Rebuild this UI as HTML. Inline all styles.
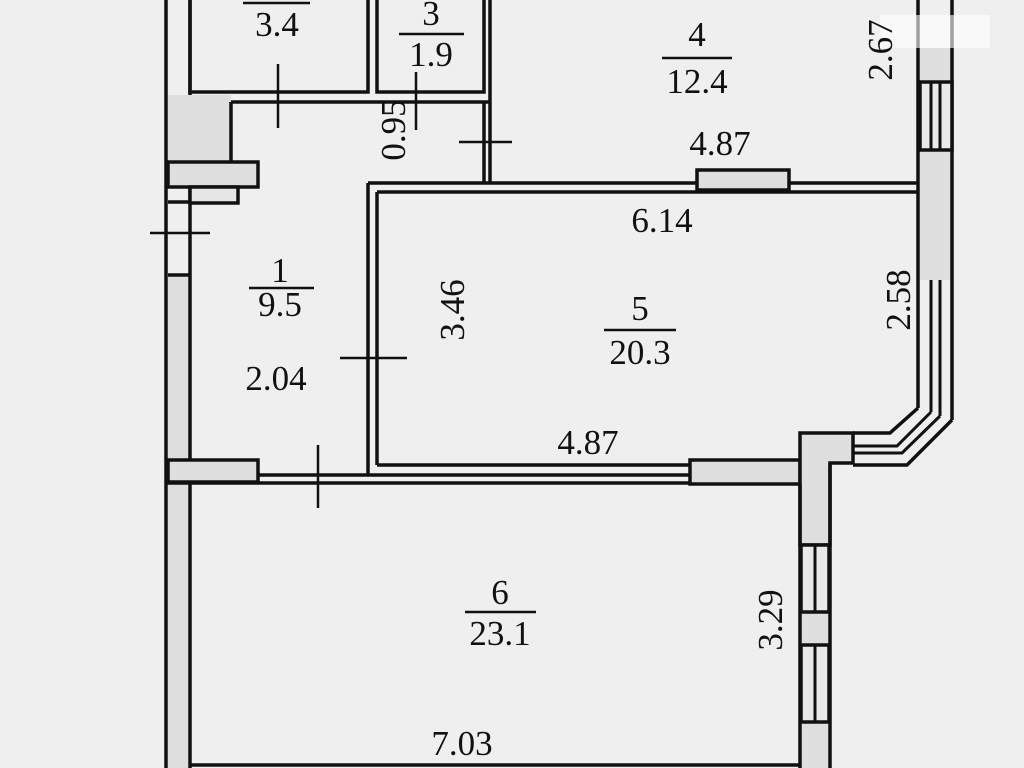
<!DOCTYPE html>
<html><head><style>
html,body{margin:0;padding:0;background:#efefef;}
svg{display:block;}
text{font-family:"Liberation Serif",serif;font-size:35px;fill:#111;}
</style></head><body>
<svg width="1024" height="768" viewBox="0 0 1024 768" xmlns="http://www.w3.org/2000/svg">
<rect width="1024" height="768" fill="#efefef"/>
<g fill="#dedede" stroke="none">
<rect x="168" y="95" width="63" height="67"/>
<rect x="168" y="275" width="22" height="185"/>
<rect x="168" y="483" width="22" height="285"/>
<rect x="920" y="48" width="32" height="34"/>
<rect x="920" y="150" width="32" height="130"/>
<rect x="801" y="612" width="28" height="33"/>
<rect x="801" y="722" width="28" height="46"/>
</g>
<g fill="none" stroke="#111" stroke-width="3.5">
<line x1="166" y1="0" x2="166" y2="768"/>
<line x1="190" y1="0" x2="190" y2="95"/>
<line x1="190" y1="188" x2="190" y2="460"/>
<line x1="190" y1="483" x2="190" y2="768"/>
<line x1="168" y1="275" x2="190" y2="275"/>
<line x1="168" y1="202" x2="190" y2="202"/>
<polyline points="190,0 190,92 368,92 368,0"/>
<polyline points="377,0 377,92 484,92 484,0"/>
<line x1="490" y1="0" x2="490" y2="183"/>
<line x1="484" y1="102" x2="484" y2="183"/>
<line x1="231" y1="102" x2="490" y2="102"/>
<line x1="231" y1="102" x2="231" y2="162"/>
<rect x="168" y="162" width="90" height="25" fill="#dedede"/>
<rect x="190" y="187" width="48" height="16" fill="#e6e6e6"/>
<line x1="368" y1="183" x2="918" y2="183"/>
<line x1="377" y1="192" x2="918" y2="192"/>
<line x1="368" y1="183" x2="368" y2="475"/>
<line x1="377" y1="192" x2="377" y2="465"/>
<rect x="697" y="170" width="92" height="20" fill="#dedede"/>
<line x1="377" y1="465" x2="690" y2="465"/>
<line x1="258" y1="475" x2="690" y2="475"/>
<line x1="166" y1="483" x2="690" y2="483"/>
<rect x="168" y="460" width="90" height="22" fill="#dedede"/>
<rect x="690" y="460" width="110" height="24" fill="#dedede"/>
<path d="M800 433 L853 433 L853 463 L830 463 L830 545 L800 545 Z" fill="#dedede"/>
<line x1="800" y1="484" x2="800" y2="768"/>
<line x1="830" y1="463" x2="830" y2="768"/>
<rect x="801" y="545" width="28" height="67" fill="#e9e9e9"/>
<rect x="801" y="645" width="28" height="77" fill="#e9e9e9"/>
<line x1="815" y1="545" x2="815" y2="612" stroke-width="3"/>
<line x1="815" y1="645" x2="815" y2="722" stroke-width="3"/>
<line x1="190" y1="765" x2="800" y2="765"/>
<line x1="918" y1="0" x2="918" y2="408"/>
<line x1="952" y1="0" x2="952" y2="420"/>
<rect x="920" y="82" width="32" height="68" fill="#e9e9e9"/>
<line x1="931" y1="82" x2="931" y2="150" stroke-width="3"/>
<line x1="940" y1="82" x2="940" y2="150" stroke-width="3"/>
<line x1="931" y1="280" x2="931" y2="412" stroke-width="3"/>
<line x1="940" y1="280" x2="940" y2="416" stroke-width="3"/>
<polyline points="918,408 890,433 853,433"/>
<polyline points="931,412 897,446 853,446" stroke-width="3"/>
<polyline points="940,416 902,453 853,453" stroke-width="3"/>
<polyline points="952,420 907,465 853,465"/>
<g stroke-width="2.5">
<line x1="278" y1="64" x2="278" y2="128"/>
<line x1="416" y1="72" x2="416" y2="130"/>
<line x1="459" y1="142" x2="512" y2="142"/>
<line x1="150" y1="233" x2="210" y2="233"/>
<line x1="340" y1="358" x2="407" y2="358"/>
<line x1="318" y1="445" x2="318" y2="508"/>
<line x1="243" y1="3" x2="310" y2="3"/>
<line x1="399" y1="34" x2="464" y2="34"/>
<line x1="662" y1="58" x2="732" y2="58"/>
<line x1="249" y1="288" x2="314" y2="288"/>
<line x1="604" y1="330" x2="676" y2="330"/>
<line x1="465" y1="612" x2="536" y2="612"/>
</g>
</g>
<rect x="880" y="15" width="110" height="33" fill="#fff" opacity="0.6"/>
<g text-anchor="middle">
<text x="277" y="36">3.4</text>
<text x="431" y="25">3</text>
<text x="431" y="66">1.9</text>
<text x="697" y="46">4</text>
<text x="697" y="93">12.4</text>
<text x="720" y="155">4.87</text>
<text x="662" y="232">6.14</text>
<text x="640" y="320">5</text>
<text x="640" y="364">20.3</text>
<text x="588" y="454">4.87</text>
<text x="280" y="282">1</text>
<text x="280" y="316">9.5</text>
<text x="276" y="390">2.04</text>
<text x="500" y="604">6</text>
<text x="500" y="645">23.1</text>
<text x="462" y="755">7.03</text>
<text transform="translate(405,130) rotate(-90)">0.95</text>
<text transform="translate(892,50) rotate(-90)">2.67</text>
<text transform="translate(464,310) rotate(-90)">3.46</text>
<text transform="translate(910,300) rotate(-90)">2.58</text>
<text transform="translate(782,620) rotate(-90)">3.29</text>
</g>
</svg>
</body></html>
